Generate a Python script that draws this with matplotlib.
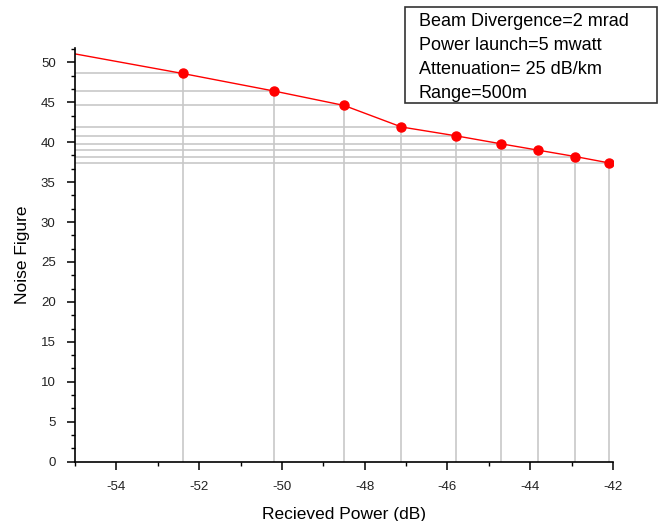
import numpy as np
import matplotlib.pyplot as plt
from matplotlib.ticker import MultipleLocator
from matplotlib.patches import Rectangle

# valores
power_db = [-52.40, -50.19, -48.50, -47.11, -45.80, -44.71, -43.81, -42.91, -42.09]
noise_fig = [48.6, 46.4, 44.6, 41.9, 40.8, 39.8, 39.0, 38.2, 37.4]
# extremo izquierdo de la linea (sin marcador)
start_db = -55.0
start_nf = 51.05

info = ['Beam Divergence=2 mrad',
        'Power launch=5 mwatt',
        'Attenuation= 25 dB/km',
        'Range=500m']

plt.rcParams['font.family'] = ['Liberation Sans', 'DejaVu Sans']
plt.rcParams['axes.unicode_minus'] = False

W, H = 659, 521
fig = plt.figure(figsize=(W / 100, H / 100), dpi=100)
ax = fig.add_axes([0.114, 0.114, 0.816, 0.794])

xmin, ymin = -55, 0
# lineas de referencia (drop lines)
ax.vlines(power_db, ymin, noise_fig, color='#c8c8c8', lw=1.2, zorder=1)
ax.hlines(noise_fig, xmin, power_db, color='#c8c8c8', lw=1.2, zorder=1)

ax.plot([start_db] + power_db, [start_nf] + noise_fig, color='red', lw=1, zorder=2)
ax.plot(power_db, noise_fig, 'o', color='red', ms=6.5, zorder=3)

ax.set_xlim(-55, -42)
ax.set_ylim(0, 51.8)
ax.xaxis.set_major_locator(MultipleLocator(2))
ax.xaxis.set_minor_locator(MultipleLocator(1))
ax.yaxis.set_major_locator(MultipleLocator(5))
ax.yaxis.set_minor_locator(MultipleLocator(5 / 3))

for s in ['top', 'right']:
    ax.spines[s].set_visible(False)
for s in ['left', 'bottom']:
    ax.spines[s].set_linewidth(1.2)

ax.tick_params(which='major', direction='out', length=6, width=1.1,
               labelsize=9.5, labelcolor='#222222', pad=8)
ax.tick_params(which='minor', direction='out', length=3, width=1)

ax.set_xlabel('Recieved Power (dB)', fontsize=12.5, labelpad=10)
ax.set_ylabel('Noise Figure', fontsize=12.5, labelpad=8)

# cuadro de parametros
fig.patches.append(Rectangle((405 / W, 1 - 103 / H), 252 / W, 96 / H,
                             transform=fig.transFigure, fc='white',
                             ec='#333333', lw=1.2))
for i, line in enumerate(info):
    fig.text(419 / W, 1 - (21 + 24 * i) / H, line, ha='left', va='center',
             fontsize=13)

plt.savefig('out.png', dpi=100)
plt.close()
